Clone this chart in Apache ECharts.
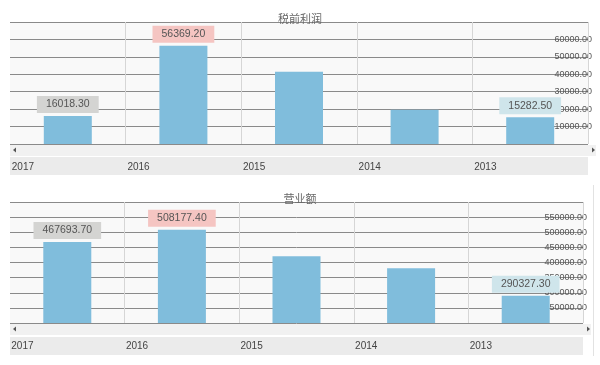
<!DOCTYPE html>
<html>
<head>
<meta charset="utf-8">
<script src="https://cdn.jsdelivr.net/npm/echarts@6/dist/echarts.min.js"></script>
<style>
html,body{margin:0;padding:0;background:#fff;}
#c{width:600px;height:365px;}
</style>
</head>
<body>
<div id="c"></div>
<script>
// ---- data ----
var years = ['2017', '2016', '2015', '2014', '2013'];
var profitTitle = '税前利润';
var profitValues = [16018.30, 56369.20, 41400, 19700, 15282.50];
var revenueTitle = '营业额';
var revenueValues = [467693.70, 508177.40, 421000, 381000, 290327.30];
var labelledIdx = [0, 1, 4];

// ---- styles ----
var FONT = '"Liberation Sans", Arial, sans-serif';
var labelBg = {0: '#d4d4d2', 1: '#f5c5c2', 4: '#cfe5eb'};
var barColor = '#80bddc';

function makeData(vals) {
  return vals.map(function (v, i) {
    var item = {value: v};
    if (labelledIdx.indexOf(i) >= 0) {
      item.label = {
        show: true, position: 'top', distance: 3,
        backgroundColor: labelBg[i], padding: [3, 9, 3, 9],
        color: '#555', fontSize: 10.5, fontFamily: FONT,
        formatter: function (p) { return p.value.toFixed(2); }
      };
    }
    return item;
  });
}

function xAxisCfg(gi) {
  return {
    type: 'category', gridIndex: gi, data: years, z: 5,
    axisLine: {show: false}, axisTick: {show: false},
    splitLine: {show: true, interval: function (i) { return i > 0; }, lineStyle: {color: '#d6d6d6', width: 1}},
    axisLabel: {
      margin: 18, interval: 0,
      formatter: function (v) { return '{a|' + v + '}'; },
      rich: {a: {width: 112, align: 'left', fontSize: 10, color: '#444', fontFamily: FONT}}
    }
  };
}
function yAxisCfg(gi, min, max, interval) {
  return {
    type: 'value', gridIndex: gi, position: 'right', min: min, max: max, interval: interval,
    axisLine: {show: false}, axisTick: {show: false},
    splitLine: {show: true, lineStyle: {color: '#8a8a8a', width: 1}},
    axisLabel: {
      inside: true, margin: -4, showMinLabel: false, showMaxLabel: false,
      color: '#555', fontSize: 9, fontFamily: FONT,
      formatter: function (v) { return v.toFixed(2); }
    }
  };
}

function strip(x, y, w, h, color) {
  return {type: 'rect', shape: {x: x, y: y, width: w, height: h}, style: {fill: color}, z: -10, silent: true};
}
function arrow(x, y, dir) {
  var pts = dir < 0 ? [[x + 3, y - 2.5], [x + 3, y + 2.5], [x, y]] : [[x - 3, y - 2.5], [x - 3, y + 2.5], [x, y]];
  return {type: 'polygon', shape: {points: pts}, style: {fill: '#555'}, z: 10, silent: true};
}

var chart = echarts.init(document.getElementById('c'), null, {renderer: 'canvas'});
chart.setOption({
  backgroundColor: '#ffffff',
  animation: false,
  title: [
    {text: profitTitle, left: 'center', top: 8, textStyle: {fontSize: 11, fontWeight: 'normal', color: '#666', fontFamily: '"Noto Sans CJK SC", sans-serif'}},
    {text: revenueTitle, left: 'center', top: 188, textStyle: {fontSize: 11, fontWeight: 'normal', color: '#666', fontFamily: '"Noto Sans CJK SC", sans-serif'}}
  ],
  grid: [
    {left: 10, right: 12, top: 22, bottom: 221, show: true, backgroundColor: '#f9f9f9', borderWidth: 0},
    {left: 10, right: 17, top: 202, bottom: 42, show: true, backgroundColor: '#f9f9f9', borderWidth: 0}
  ],
  xAxis: [xAxisCfg(0), xAxisCfg(1)],
  yAxis: [yAxisCfg(0, 0, 70000, 10000), yAxisCfg(1, 200000, 600000, 50000)],
  series: [
    {type: 'bar', xAxisIndex: 0, yAxisIndex: 0, data: makeData(profitValues), barWidth: 48, itemStyle: {color: barColor}},
    {type: 'bar', xAxisIndex: 1, yAxisIndex: 1, data: makeData(revenueValues), barWidth: 48, itemStyle: {color: barColor}}
  ],
  graphic: [
    strip(10, 145, 586, 11, '#f1f1f1'),
    strip(10, 157, 578, 18, '#ebebeb'),
    strip(10, 324, 581, 11, '#f1f1f1'),
    strip(10, 337, 573, 18, '#ebebeb'),
    arrow(13, 150, -1), arrow(595, 150, 1),
    arrow(13, 329, -1), arrow(590, 329, 1),
    {type: 'line', shape: {x1: 593.5, y1: 185, x2: 593.5, y2: 356}, style: {stroke: '#e2e2e2', lineWidth: 1}, silent: true}
  ]
});
</script>
</body>
</html>
